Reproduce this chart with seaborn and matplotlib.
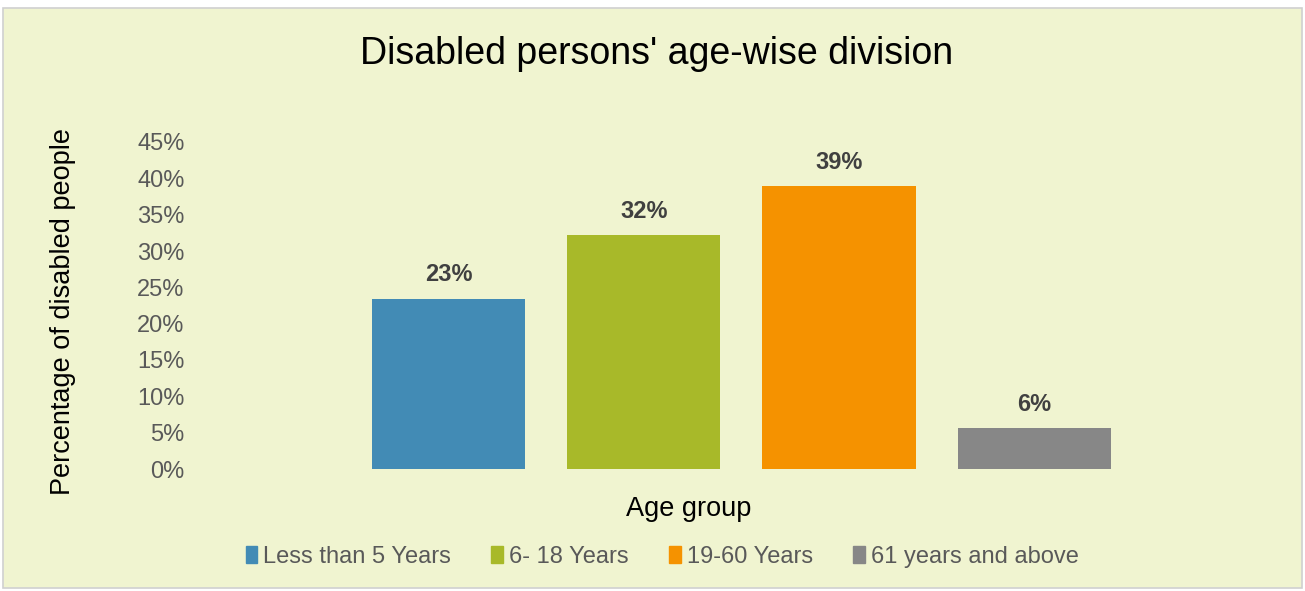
import matplotlib
matplotlib.use("Agg")
import matplotlib.pyplot as plt
import matplotlib.patches as mpatches
import seaborn as sns
import pandas as pd

# Share of disabled persons in each age band
age_groups = ["Less than 5 Years", "6- 18 Years", "19-60 Years", "61 years and above"]
shares = [0.234, 0.322, 0.389, 0.056]
bar_colors = ["#428BB5", "#A8B929", "#F59200", "#878787"]
y_ticks = [0.00, 0.05, 0.10, 0.15, 0.20, 0.25, 0.30, 0.35, 0.40, 0.45]

BG = "#F0F4D0"

sns.set_theme(style="white")
plt.rcParams["font.family"] = ["Liberation Sans", "DejaVu Sans"]

W, H = 1305, 591
fig = plt.figure(figsize=(W / 100, H / 100), dpi=100)
fig.patch.set_facecolor("white")

# chart panel with thin grey frame, kept behind the axes
fig.patches.append(mpatches.Rectangle((3 / W, 3 / H), 1 - 6 / W, 1 - 11 / H,
                                      transform=fig.transFigure, facecolor=BG,
                                      edgecolor="#D0D0D0", linewidth=1.2, zorder=-10))

ax = fig.add_axes([190 / W, 1 - 469 / H, (1200 - 190) / W, (469 - 142) / H])
ax.set_facecolor("none")

df = pd.DataFrame({"group": age_groups, "share": shares})
sns.barplot(data=df, x="group", y="share", hue="group", order=age_groups,
            hue_order=age_groups, palette=bar_colors, width=0.785,
            dodge=False, legend=False, saturation=1, linewidth=0, ax=ax)

ax.set_xlim(-1.326, 3.85)
ax.set_ylim(0, 0.45)
ax.set_yticks(y_ticks)
ax.set_yticklabels([f"{t:.0%}" for t in y_ticks], color="#595959", fontsize=17)
ax.set_xticks([])
ax.tick_params(axis="y", length=0, pad=4)
for s in ax.spines.values():
    s.set_visible(False)

for patch, v in zip(ax.patches, shares):
    ax.annotate(f"{v:.0%}", (patch.get_x() + patch.get_width() / 2, v),
                xytext=(0, 9), textcoords="offset points", ha="center", va="bottom",
                fontsize=17, fontweight="bold", color="#404040")

ax.set_xlabel("")
ax.set_ylabel("Percentage of disabled people", fontsize=19.5, color="black")
ax.yaxis.set_label_coords((76 - 190) / (1200 - 190), 0.483)

fig.text(657 / W, 1 - 54 / H, "Disabled persons' age-wise division",
         ha="center", va="center", fontsize=27, color="black")
fig.text(689 / W, 1 - 509 / H, "Age group", ha="center", va="center",
         fontsize=19.5, color="black")

handles = [mpatches.Patch(color=c, label=l) for c, l in zip(bar_colors, age_groups)]
fig.legend(handles=handles, loc="center", bbox_to_anchor=(662 / W, 1 - 557 / H),
           ncol=4, frameon=False, fontsize=17, labelcolor="#595959",
           handlelength=0.5, handleheight=0.7, handletextpad=0.25,
           columnspacing=1.7)

fig.savefig("out.png", dpi=100, facecolor=fig.get_facecolor())
